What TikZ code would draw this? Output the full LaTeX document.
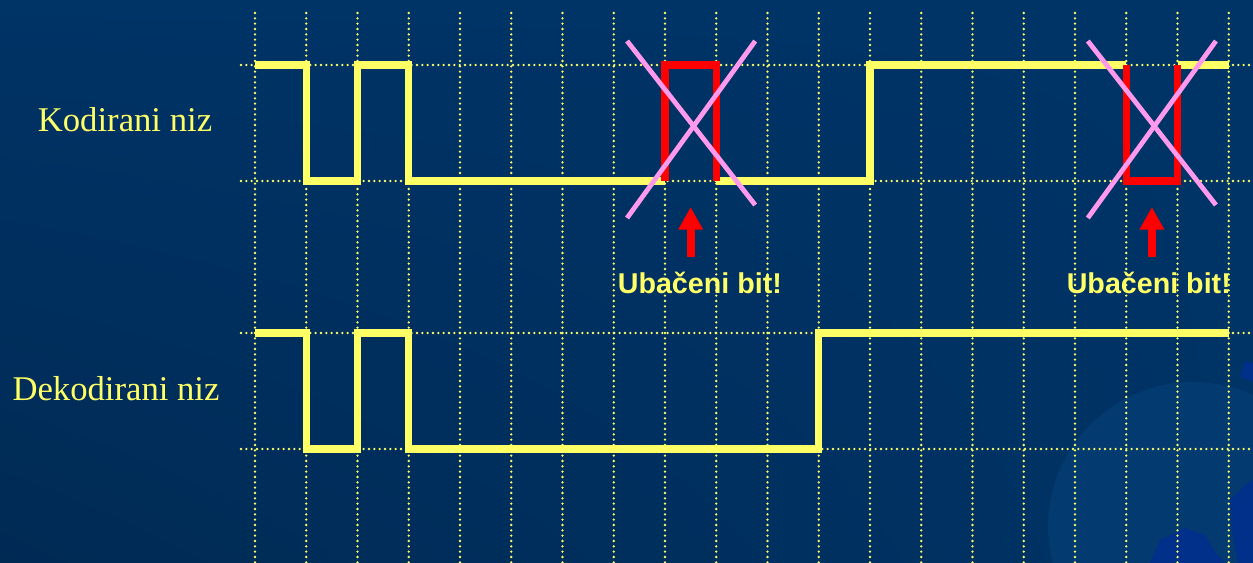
\documentclass[tikz,border=0pt]{standalone}
\usepackage{fontspec}
\setmainfont{Liberation Serif}
\setsansfont{Liberation Sans}
\usetikzlibrary{arrows.meta,shadings}
\definecolor{slidebg}{HTML}{003366}
\definecolor{slidebgdark}{HTML}{002A54}
\definecolor{globeblue}{HTML}{033A70}
\definecolor{landblue}{HTML}{00308A}
\definecolor{sigyellow}{HTML}{FFFF66}
\definecolor{crosspink}{HTML}{FF99EE}
\tikzset{
  grid line/.style={sigyellow, line width=1.9pt, line cap=round, dash pattern=on 0pt off 4pt},
  signal/.style={sigyellow, line width=5.3pt},
  extra bit/.style={red, line width=5.3pt},
  strike/.style={crosspink, line width=3.6pt},
  marker/.style={red, line width=6pt, -{Triangle[width=17.5pt,length=17pt]}},
  seqlabel/.style={sigyellow, anchor=base, font=\fontsize{26}{30}\selectfont},
  bitlabel/.style={sigyellow, anchor=base, font=\sffamily\bfseries\fontsize{21.5}{25}\selectfont},
}
\begin{document}
\begin{tikzpicture}[x=0.75pt, y=-0.75pt]
  \useasboundingbox (0,0) rectangle (1253,563);
  % background and logo
  \shade[upper left=slidebg, upper right=slidebg, lower left=slidebgdark, lower right=slidebg] (0,0) rectangle (1253,563);
  \begin{scope}
    \clip (0,0) rectangle (1253,563);
    \fill[globeblue] (1193,527) circle (145);
    \fill[landblue] (1150,563) -- (1160,540) -- (1185,528) -- (1205,535) -- (1215,552) -- (1225,563) -- cycle;
    \fill[landblue] (1230,500) -- (1245,485) -- (1253,480) -- (1253,563) -- (1238,563) -- (1232,530) -- cycle;
    \fill[landblue] (1245,361) -- (1256,364) -- (1256,383) -- (1240,377) -- cycle;
  \end{scope}
  % grid
  \foreach \y in {65,181,333,449} \draw[grid line] (241,\y) -- (1253,\y);
  \node[seqlabel] (kod) at (125,132) {Kodirani niz};
  \node[seqlabel] (dek) at (116,400) {Dekodirani niz};
  \begin{scope}[xshift=191.25pt, x=38.4375pt]
    \foreach \i in {0,...,19} \draw[grid line] (\i,13) -- (\i,563);
    % coded sequence
    \draw[signal] (0,65) -- (1,65) -- (1,181) -- (2,181) -- (2,65) -- (3,65) -- (3,181) -- (8,181);
    \draw[signal] (9,181) -- (12,181) -- (12,65) -- (17,65);
    \draw[signal] (18,65) -- (19,65);
    \draw[extra bit] (8,181) -- (8,65) -- (9,65) -- (9,181);
    \draw[extra bit] (17,65) -- (17,181) -- (18,181) -- (18,65);
    \draw[strike] (7.26,41) -- (9.76,205);
    \draw[strike] (7.26,218) -- (9.76,41);
    \draw[strike] (16.25,41) -- (18.75,205);
    \draw[strike] (16.25,218) -- (18.75,41);
    \coordinate (tail1) at (8.5,257);
    \coordinate (tip1) at (8.5,207);
    \coordinate (tail2) at (17.5,257);
    \coordinate (tip2) at (17.5,207);
    \draw[marker] (tail1) -- (tip1);
    \draw[marker] (tail2) -- (tip2);
    \node[bitlabel] (ub1) at (8.68,293) {Ubačeni bit!};
    \node[bitlabel] (ub2) at (17.44,293) {Ubačeni bit!};
    % decoded sequence
    \draw[signal] (0,333) -- (1,333) -- (1,449) -- (2,449) -- (2,333) -- (3,333) -- (3,449) -- (11,449) -- (11,333) -- (19,333);
  \end{scope}
\end{tikzpicture}
\end{document}
